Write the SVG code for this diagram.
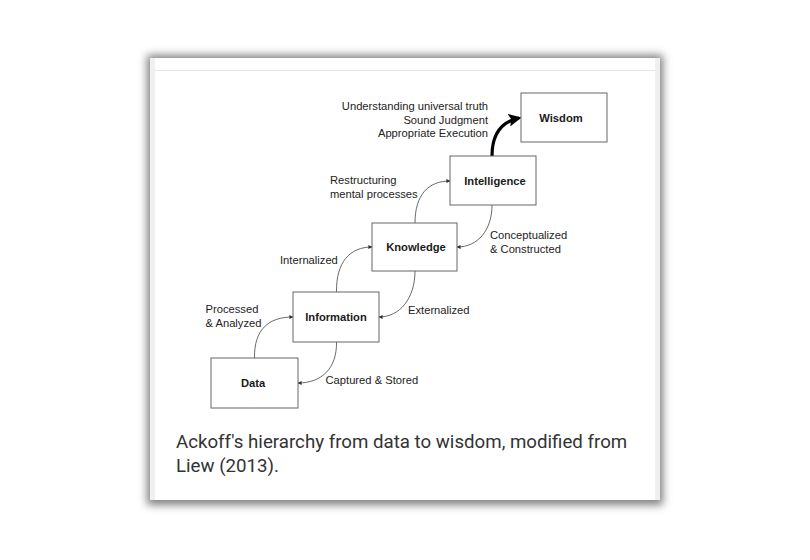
<svg xmlns="http://www.w3.org/2000/svg" width="810" height="560" viewBox="0 0 810 560">
<defs>
<style>
.box{fill:#fff;stroke:#666;stroke-width:1}
.nt{font-family:"Liberation Sans",Arial,sans-serif;font-size:11.2px;font-weight:bold;fill:#1a1a1a;text-anchor:middle;dominant-baseline:central}
.lb{font-family:"Liberation Sans",Arial,sans-serif;font-size:11.2px;fill:#222}
.cn{fill:none;stroke:#444;stroke-width:0.8}
.cap{font-family:Roboto,"Liberation Sans",sans-serif;font-size:18.7px;fill:#333}
</style>
<marker id="ah" viewBox="0 0 10 10" refX="9" refY="5" markerWidth="4" markerHeight="4" orient="auto" markerUnits="userSpaceOnUse">
<path d="M0,0 L10,5 L0,10 z" fill="#333"/>
</marker>
<marker id="big" viewBox="0 0 10 10" refX="8" refY="5" markerWidth="13" markerHeight="13" orient="auto" markerUnits="userSpaceOnUse">
<path d="M0,0 L10,5 L0,10 L2,5 z" fill="#000"/>
</marker>
<filter id="sh" x="-10%" y="-10%" width="120%" height="120%">
<feGaussianBlur stdDeviation="4"/>
</filter>
</defs>
<rect width="810" height="560" fill="#fff"/>
<g id="card">
<rect x="147" y="55" width="516" height="450" fill="#808080" filter="url(#sh)"/>
<rect x="150" y="58" width="510" height="442" fill="#fff"/>
<rect x="150" y="58" width="5" height="442" fill="#f0f0f0"/>
<rect x="655" y="58" width="5" height="442" fill="#f0f0f0"/>
<line x1="155" y1="70.5" x2="655" y2="70.5" stroke="#e6e6e6" stroke-width="1"/>
</g>
<g id="connectors">
<path class="cn" d="M254.5,358 C254,330 268,317 293,317" marker-end="url(#ah)"/>
<path class="cn" d="M336.5,342 C337,368 322,383 298,383" marker-end="url(#ah)"/>
<path class="cn" d="M336.5,292 C336,262 350,247 372,247" marker-end="url(#ah)"/>
<path class="cn" d="M415,271 C415,298 400,317 379,317" marker-end="url(#ah)"/>
<path class="cn" d="M415,223 C415,195 428,181 450,181" marker-end="url(#ah)"/>
<path class="cn" d="M492,205 C492,230 478,247 457,247" marker-end="url(#ah)"/>
<path d="M492,156 C492,135 500,122 519,118" fill="none" stroke="#000" stroke-width="3.2" marker-end="url(#big)"/>
</g>
<g id="wisdom">
<rect class="box" x="521" y="93" width="86" height="49"/>
<text class="nt" x="561" y="118">Wisdom</text>
</g>
<g id="intelligence">
<rect class="box" x="450" y="156" width="86" height="49"/>
<text class="nt" x="495" y="181">Intelligence</text>
</g>
<g id="knowledge">
<rect class="box" x="372" y="223" width="85" height="48"/>
<text class="nt" x="416" y="247">Knowledge</text>
</g>
<g id="information">
<rect class="box" x="293" y="292" width="86" height="50"/>
<text class="nt" x="336" y="317">Information</text>
</g>
<g id="data">
<rect class="box" x="211" y="358" width="87" height="50"/>
<text class="nt" x="253" y="383">Data</text>
</g>
<g id="labels">
<text class="lb" x="488" y="110" text-anchor="end">Understanding universal truth</text>
<text class="lb" x="488" y="123.5" text-anchor="end">Sound Judgment</text>
<text class="lb" x="488" y="137" text-anchor="end">Appropriate Execution</text>
<text class="lb" x="330" y="184">Restructuring</text>
<text class="lb" x="330" y="197.5">mental processes</text>
<text class="lb" x="490" y="239">Conceptualized</text>
<text class="lb" x="490" y="252.5">&amp; Constructed</text>
<text class="lb" x="280" y="264">Internalized</text>
<text class="lb" x="408" y="314">Externalized</text>
<text class="lb" x="205.5" y="313">Processed</text>
<text class="lb" x="205.5" y="326.5">&amp; Analyzed</text>
<text class="lb" x="325.5" y="384">Captured &amp; Stored</text>
</g>
<g id="caption">
<text class="cap" x="176" y="448">Ackoff's hierarchy from data to wisdom, modified from</text>
<text class="cap" x="176" y="472">Liew (2013).</text>
</g>
</svg>
